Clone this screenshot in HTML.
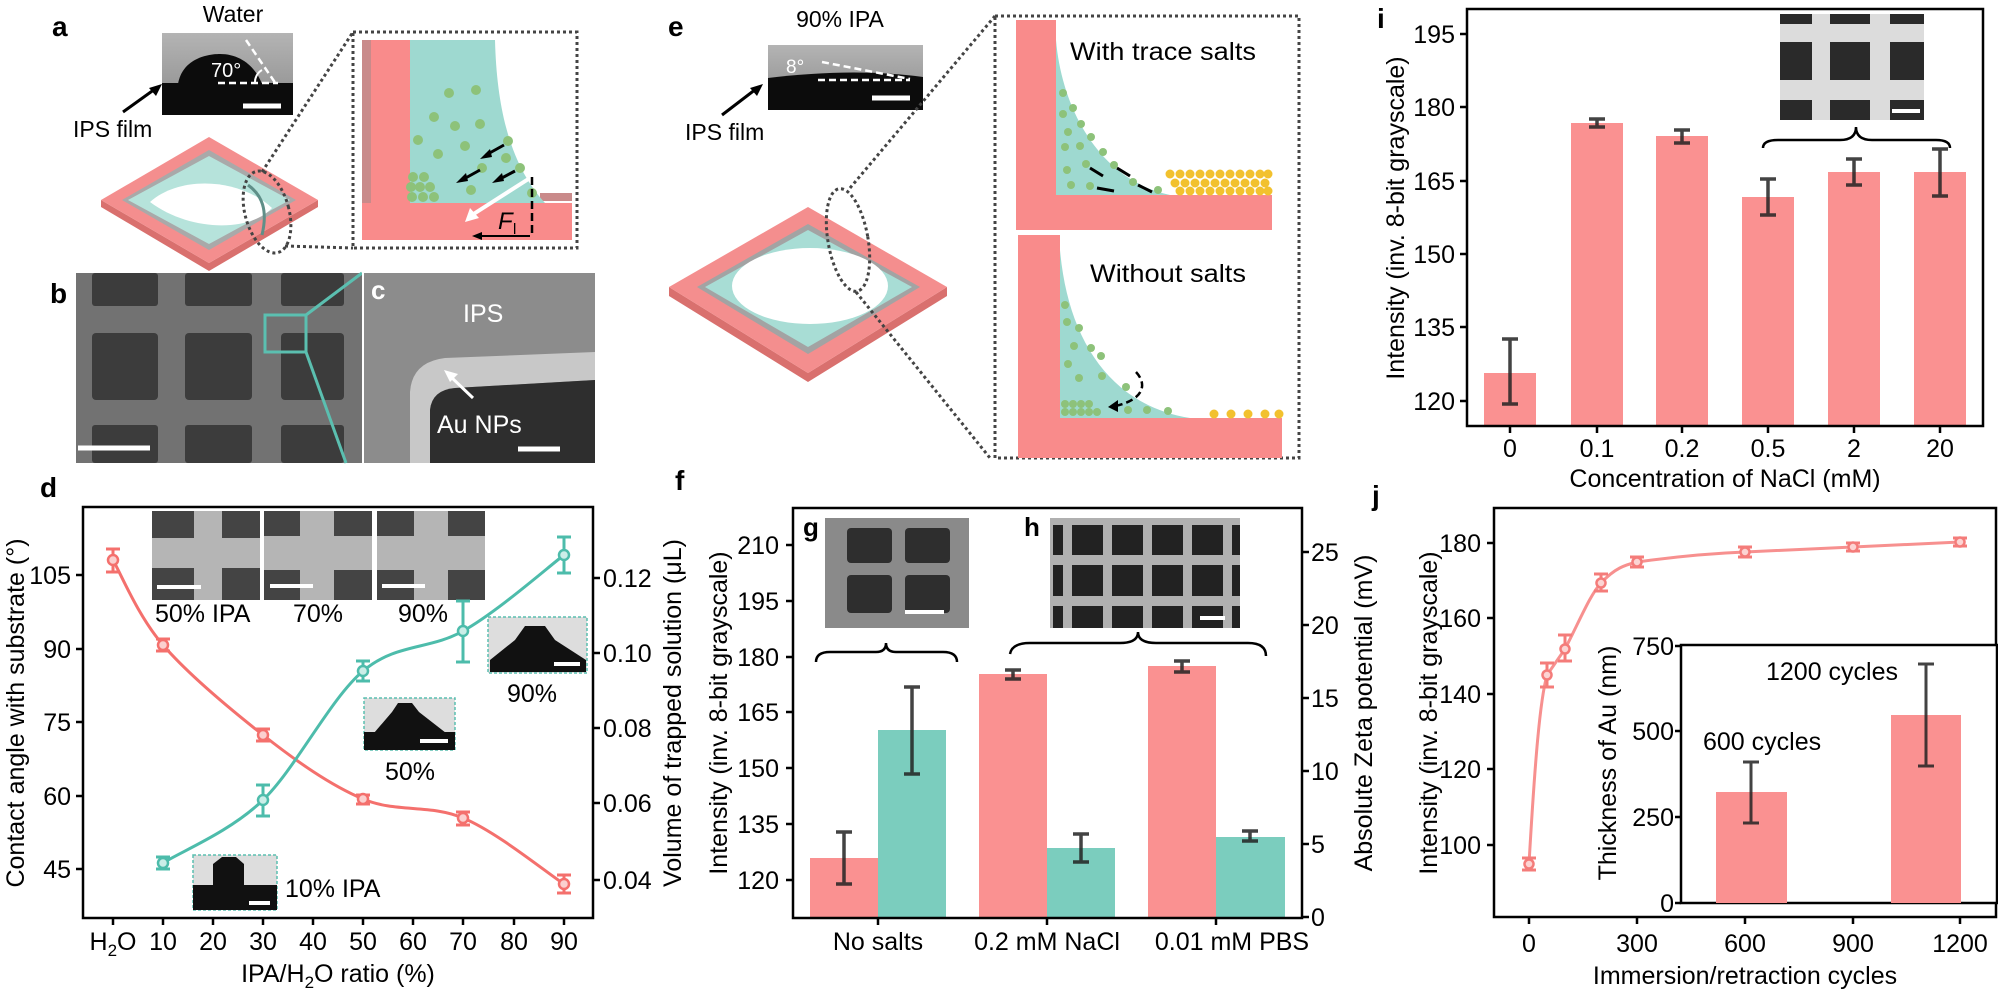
<!DOCTYPE html>
<html><head><meta charset="utf-8"><style>
html,body{margin:0;padding:0;background:#fff}
svg{display:block;font-family:"Liberation Sans",Arial,sans-serif}
</style></head><body>
<svg width="1998" height="989" viewBox="0 0 1998 989" xmlns="http://www.w3.org/2000/svg">
<defs>
<linearGradient id="dg" x1="0" y1="0" x2="0" y2="1"><stop offset="0" stop-color="#b4b4b4"/><stop offset="1" stop-color="#8a8a8a"/></linearGradient>
</defs>

<!-- ============ PANEL A ============ -->
<text x="52" y="36" font-size="28" font-weight="bold">a</text>
<text x="233" y="22" font-size="23" text-anchor="middle">Water</text>
<rect x="162" y="33" width="131" height="82" fill="url(#dg)"/>
<rect x="162" y="83" width="131" height="32" fill="#0c0c0c"/>
<path d="M178,84 C182,60 205,54 220,54 C240,54 255,66 262,84 Z" fill="#0c0c0c"/>
<line x1="218" y1="83" x2="278" y2="83" stroke="#fff" stroke-width="2.5" stroke-dasharray="7,4"/>
<line x1="246" y1="40" x2="276" y2="84" stroke="#fff" stroke-width="2.5" stroke-dasharray="7,4"/>
<path d="M255,83 A14,14 0 0 1 262,70" fill="none" stroke="#fff" stroke-width="2"/>
<text x="211" y="77" font-size="20" fill="#fff">70°</text>
<line x1="243" y1="106" x2="281" y2="106" stroke="#fff" stroke-width="5"/>
<text x="73" y="137" font-size="23">IPS film</text>
<line x1="123" y1="112" x2="155" y2="89" stroke="#000" stroke-width="3"/>
<path d="M162,84 L149,88 L156,96 Z" fill="#000"/>
<path d="M101,200 L209,263 L318,200 L318,207 L209,271 L101,207 Z" fill="#d9706e"/>
<path d="M209,137 L318,200 L209,263 L101,200 Z" fill="#f48e8e"/>
<path d="M209,150 L296,200 L209,250 L122,200 Z" fill="#a9a9a9"/>
<path d="M209,156 L290,200 L209,244 L128,200 Z" fill="#b6e3db"/>
<path d="M150,202 C180,175 240,178 272,208 C250,232 190,232 150,202 Z" fill="#fff"/>
<path d="M248,185 C262,195 268,210 262,235" fill="none" stroke="#5f8f88" stroke-width="3"/>
<ellipse cx="267" cy="212" rx="22" ry="42" transform="rotate(-15 267 212)" fill="none" stroke="#444" stroke-width="3" stroke-dasharray="3,3"/>
<line x1="262" y1="172" x2="353" y2="32" stroke="#444" stroke-width="3" stroke-dasharray="3,3"/>
<line x1="285" y1="246" x2="353" y2="248" stroke="#444" stroke-width="3" stroke-dasharray="3,3"/>
<rect x="353" y="32" width="224" height="216" fill="none" stroke="#444" stroke-width="3" stroke-dasharray="3,3"/>
<rect x="362" y="40" width="48" height="200" fill="#f98b8b"/>
<rect x="362" y="40" width="9" height="200" fill="#c98a8a"/>
<rect x="362" y="203" width="210" height="37" fill="#f98b8b"/>
<rect x="540" y="193" width="32" height="8" fill="#c98a8a"/>
<path d="M410,40 L495,40 C497,120 515,170 545,203 L410,203 Z" fill="#9ed9d0"/>
<g fill="#8dc27a">
<circle cx="449" cy="93" r="5"/><circle cx="476" cy="90" r="5"/><circle cx="434" cy="117" r="5"/><circle cx="455" cy="126" r="5"/><circle cx="480" cy="124" r="5"/><circle cx="418" cy="140" r="5"/><circle cx="465" cy="146" r="5"/><circle cx="438" cy="154" r="5"/><circle cx="508" cy="141" r="5"/><circle cx="506" cy="158" r="5"/><circle cx="482" cy="168" r="5"/><circle cx="520" cy="168" r="5"/><circle cx="471" cy="190" r="5"/><circle cx="532" cy="193" r="5"/>
<circle cx="413" cy="177" r="5"/><circle cx="424" cy="177" r="5"/><circle cx="411" cy="187" r="5"/><circle cx="420" cy="187" r="5"/><circle cx="430" cy="187" r="5"/><circle cx="412" cy="197" r="5"/><circle cx="423" cy="197" r="5"/><circle cx="434" cy="197" r="5"/>
</g>
<g stroke="#000" stroke-width="3"><line x1="504" y1="145" x2="486" y2="155"/><line x1="480" y1="170" x2="462" y2="180"/><line x1="515" y1="171" x2="498" y2="180"/></g>
<g fill="#000"><path d="M480,159 L490,149 L492,157 Z"/><path d="M456,183 L466,173 L468,181 Z"/><path d="M492,183 L502,173 L504,181 Z"/></g>
<line x1="530" y1="178" x2="472" y2="215" stroke="#fff" stroke-width="4"/>
<path d="M465,222 L470,208 L479,218 Z" fill="#fff"/>
<line x1="532" y1="177" x2="532" y2="235" stroke="#000" stroke-width="2.5" stroke-dasharray="8,4"/>
<line x1="530" y1="236" x2="478" y2="236" stroke="#000" stroke-width="2"/>
<path d="M472,236 L482,232 L482,240 Z" fill="#000"/>
<text x="498" y="229" font-size="24" font-style="italic">F</text><text x="513" y="234" font-size="15">l</text>

<!-- ============ PANEL B / C ============ -->
<text x="50" y="303" font-size="28" font-weight="bold">b</text>
<rect x="76" y="273" width="286" height="190" fill="#727272"/>
<g fill="#3c3c3c">
<rect x="92" y="273" width="66" height="33" rx="3"/><rect x="185" y="273" width="67" height="33" rx="3"/><rect x="281" y="273" width="63" height="33" rx="3"/>
<rect x="92" y="333" width="66" height="67" rx="4"/><rect x="185" y="333" width="67" height="67" rx="4"/><rect x="281" y="333" width="63" height="67" rx="4"/>
<rect x="92" y="425" width="66" height="38" rx="3"/><rect x="185" y="425" width="67" height="38" rx="3"/><rect x="281" y="425" width="63" height="38" rx="3"/>
</g>
<line x1="78" y1="448" x2="150" y2="448" stroke="#fff" stroke-width="5"/>
<rect x="265" y="315" width="41" height="37" fill="none" stroke="#5bbfb0" stroke-width="3"/>
<line x1="306" y1="315" x2="362" y2="273" stroke="#5bbfb0" stroke-width="3"/>
<line x1="306" y1="352" x2="346" y2="463" stroke="#5bbfb0" stroke-width="3"/>
<rect x="362" y="273" width="233" height="190" fill="#8c8c8c"/>
<line x1="363" y1="273" x2="363" y2="463" stroke="#fff" stroke-width="2"/>
<path d="M410,463 L410,392 Q412,362 445,358 L595,352 L595,380 L455,388 Q432,390 430,410 L430,463 Z" fill="#c8c8c8"/>
<path d="M430,463 L430,410 Q432,390 455,388 L595,380 L595,463 Z" fill="#2e2e2e"/>
<text x="371" y="299" font-size="26" font-weight="bold" fill="#fff">c</text>
<text x="463" y="322" font-size="25" fill="#fff">IPS</text>
<line x1="473" y1="398" x2="450" y2="376" stroke="#fff" stroke-width="3"/>
<path d="M444,370 L458,374 L450,382 Z" fill="#fff"/>
<text x="437" y="433" font-size="25" fill="#fff">Au NPs</text>
<line x1="518" y1="449" x2="560" y2="449" stroke="#fff" stroke-width="5"/>

<!-- ============ PANEL D ============ -->
<text x="40" y="497" font-size="28" font-weight="bold">d</text>
<g fill="#444">
<rect x="152" y="511" width="108" height="89"/><rect x="264" y="511" width="108" height="89"/><rect x="377" y="511" width="108" height="89"/></g>
<g fill="#b5b5b5">
<rect x="152" y="538" width="108" height="30"/><rect x="194" y="511" width="28" height="89"/>
<rect x="264" y="536" width="108" height="34"/><rect x="300" y="511" width="34" height="89"/>
<rect x="377" y="536" width="108" height="34"/><rect x="414" y="511" width="34" height="89"/></g>
<g stroke="#fff" stroke-width="4"><line x1="157" y1="587" x2="201" y2="587"/><line x1="270" y1="586" x2="313" y2="586"/><line x1="382" y1="586" x2="425" y2="586"/></g>
<g font-size="25"><text x="155" y="622">50% IPA</text><text x="318" y="622" text-anchor="middle">70%</text><text x="423" y="622" text-anchor="middle">90%</text></g>
<g>
<rect x="193" y="855" width="84" height="55" fill="#ddd" stroke="#5bbfb0" stroke-width="1.5" stroke-dasharray="3,2"/>
<rect x="193" y="885" width="84" height="25" fill="#111"/><path d="M213,886 L213,864 L222,857 L236,857 L244,864 L244,886 Z" fill="#111"/>
<line x1="249" y1="903" x2="270" y2="903" stroke="#fff" stroke-width="4"/>
<text x="285" y="897" font-size="25">10% IPA</text>
<rect x="364" y="698" width="91" height="52" fill="#ddd" stroke="#5bbfb0" stroke-width="1.5" stroke-dasharray="3,2"/>
<rect x="364" y="732" width="91" height="18" fill="#111"/><path d="M374,733 L392,712 L398,703 L412,703 L419,712 L446,733 Z" fill="#111"/>
<line x1="420" y1="741" x2="448" y2="741" stroke="#fff" stroke-width="4"/>
<text x="410" y="780" font-size="25" text-anchor="middle">50%</text>
<rect x="488" y="617" width="99" height="56" fill="#ddd" stroke="#5bbfb0" stroke-width="1.5" stroke-dasharray="3,2"/>
<path d="M490,672 L490,660 L515,640 L525,626 L545,626 L555,640 L586,660 L586,672 Z" fill="#111"/>
<line x1="554" y1="664" x2="580" y2="664" stroke="#fff" stroke-width="4"/>
<text x="532" y="702" font-size="25" text-anchor="middle">90%</text>
</g>
<path d="M113,560 C121,574 138,616 163,645 C188,674 230,709 263,735 C296,761 330,785 363,799 C396,813 430,804 463,818 C497,832 547,873 564,884" fill="none" stroke="#f4706d" stroke-width="3"/>
<path d="M163,863 C180,852 230,832 263,800 C296,768 330,699 363,671 C396,643 430,650 463,631 C497,612 547,568 564,555" fill="none" stroke="#4dbcab" stroke-width="3"/>
<g stroke="#f4706d" stroke-width="3" fill="none">
<path d="M113,549 V572 M106,549 H120 M106,572 H120"/><path d="M163,639 V651 M156,639 H170 M156,651 H170"/>
<path d="M263,729 V741 M256,729 H270 M256,741 H270"/><path d="M363,795 V804 M356,795 H370 M356,804 H370"/>
<path d="M463,812 V825 M456,812 H470 M456,825 H470"/><path d="M564,875 V893 M557,875 H571 M557,893 H571"/>
</g>
<g stroke="#4dbcab" stroke-width="3" fill="none">
<path d="M163,857 V869 M156,857 H170 M156,869 H170"/><path d="M263,785 V816 M256,785 H270 M256,816 H270"/>
<path d="M363,661 V681 M356,661 H370 M356,681 H370"/><path d="M463,601 V662 M456,601 H470 M456,662 H470"/>
<path d="M564,537 V573 M557,537 H571 M557,573 H571"/>
</g>
<g stroke-width="2.5" fill="#fbd0cf" stroke="#f4706d"><circle cx="113" cy="560" r="5"/><circle cx="163" cy="645" r="5"/><circle cx="263" cy="735" r="5"/><circle cx="363" cy="799" r="5"/><circle cx="463" cy="818" r="5"/><circle cx="564" cy="884" r="5"/></g>
<g stroke-width="2.5" fill="#cbeee8" stroke="#4dbcab"><circle cx="163" cy="863" r="5"/><circle cx="263" cy="800" r="5"/><circle cx="363" cy="671" r="5"/><circle cx="463" cy="631" r="5"/><circle cx="564" cy="555" r="5"/></g>
<rect x="83" y="507" width="510" height="411" fill="none" stroke="#000" stroke-width="2.5"/>
<g stroke="#000" stroke-width="2.5">
<path d="M76,575H83M76,649H83M76,722H83M76,796H83M76,869H83"/>
<path d="M593,578H600M593,653H600M593,728H600M593,803H600M593,880H600"/>
<path d="M113,918V925M163,918V925M213,918V925M263,918V925M313,918V925M363,918V925M413,918V925M463,918V925M514,918V925M564,918V925"/>
</g>
<g font-size="25" text-anchor="end"><text x="71" y="584">105</text><text x="71" y="658">90</text><text x="71" y="731">75</text><text x="71" y="805">60</text><text x="71" y="878">45</text></g>
<g font-size="25"><text x="603" y="587">0.12</text><text x="603" y="662">0.10</text><text x="603" y="737">0.08</text><text x="603" y="812">0.06</text><text x="603" y="889">0.04</text></g>
<g font-size="25" text-anchor="middle"><text x="113" y="950">H<tspan font-size="17" dy="6">2</tspan><tspan dy="-6">O</tspan></text><text x="163" y="950">10</text><text x="213" y="950">20</text><text x="263" y="950">30</text><text x="313" y="950">40</text><text x="363" y="950">50</text><text x="413" y="950">60</text><text x="463" y="950">70</text><text x="514" y="950">80</text><text x="564" y="950">90</text></g>
<text x="338" y="982" font-size="25" text-anchor="middle">IPA/H<tspan font-size="17" dy="6">2</tspan><tspan dy="-6">O ratio (%)</tspan></text>
<text transform="translate(24,713) rotate(-90)" font-size="25" text-anchor="middle">Contact angle with substrate (°)</text>
<text transform="translate(681,713) rotate(-90)" font-size="25" text-anchor="middle">Volume of trapped solution (μL)</text>

<!-- ============ PANEL E ============ -->
<text x="668" y="36" font-size="28" font-weight="bold">e</text>
<text x="840" y="27" font-size="23" text-anchor="middle">90% IPA</text>
<rect x="768" y="45" width="155" height="65" fill="url(#dg)"/>
<path d="M768,78 C820,72 870,70 923,77 L923,110 L768,110 Z" fill="#0c0c0c"/>
<line x1="822" y1="62" x2="910" y2="79" stroke="#fff" stroke-width="2.5" stroke-dasharray="7,4"/>
<line x1="818" y1="80" x2="910" y2="80" stroke="#fff" stroke-width="2.5" stroke-dasharray="7,4"/>
<text x="786" y="73" font-size="19" fill="#fff">8°</text>
<line x1="872" y1="98" x2="910" y2="98" stroke="#fff" stroke-width="5"/>
<text x="685" y="140" font-size="23">IPS film</text>
<line x1="722" y1="115" x2="756" y2="89" stroke="#000" stroke-width="3"/>
<path d="M763,84 L750,88 L757,96 Z" fill="#000"/>
<path d="M669,287 L808,373 L947,287 L947,296 L808,382 L669,296 Z" fill="#d9706e"/>
<path d="M808,207 L947,287 L808,373 L669,287 Z" fill="#f48e8e"/>
<path d="M808,224 L920,287 L808,354 L697,287 Z" fill="#a3a3a3"/>
<path d="M808,230 L912,287 L808,347 L705,287 Z" fill="#a8ddd5"/>
<ellipse cx="810" cy="286" rx="78" ry="38" fill="#fff"/>
<ellipse cx="848" cy="240" rx="20" ry="52" transform="rotate(-10 848 240)" fill="none" stroke="#444" stroke-width="3" stroke-dasharray="3,3"/>
<line x1="850" y1="188" x2="995" y2="16" stroke="#444" stroke-width="3" stroke-dasharray="3,3"/>
<line x1="856" y1="292" x2="990" y2="458" stroke="#444" stroke-width="3" stroke-dasharray="3,3"/>
<rect x="995" y="16" width="304" height="442" fill="none" stroke="#444" stroke-width="3" stroke-dasharray="3,3"/>
<rect x="1016" y="20" width="40" height="210" fill="#f98b8b"/>
<rect x="1016" y="195" width="256" height="35" fill="#f98b8b"/>
<path d="M1056,40 C1062,110 1100,180 1170,195 L1056,195 Z" fill="#9ed9d0"/>
<g fill="#f2c12e">
<circle cx="1170" cy="174" r="4.5"/><circle cx="1180" cy="174" r="4.5"/><circle cx="1190" cy="174" r="4.5"/><circle cx="1200" cy="174" r="4.5"/><circle cx="1210" cy="174" r="4.5"/><circle cx="1220" cy="174" r="4.5"/><circle cx="1230" cy="174" r="4.5"/><circle cx="1240" cy="174" r="4.5"/><circle cx="1250" cy="174" r="4.5"/><circle cx="1260" cy="174" r="4.5"/><circle cx="1268" cy="174" r="4.5"/>
<circle cx="1175" cy="183" r="4.5"/><circle cx="1185" cy="183" r="4.5"/><circle cx="1195" cy="183" r="4.5"/><circle cx="1205" cy="183" r="4.5"/><circle cx="1215" cy="183" r="4.5"/><circle cx="1225" cy="183" r="4.5"/><circle cx="1235" cy="183" r="4.5"/><circle cx="1245" cy="183" r="4.5"/><circle cx="1255" cy="183" r="4.5"/><circle cx="1265" cy="183" r="4.5"/>
<circle cx="1180" cy="191" r="4.5"/><circle cx="1190" cy="191" r="4.5"/><circle cx="1200" cy="191" r="4.5"/><circle cx="1210" cy="191" r="4.5"/><circle cx="1220" cy="191" r="4.5"/><circle cx="1230" cy="191" r="4.5"/><circle cx="1240" cy="191" r="4.5"/><circle cx="1250" cy="191" r="4.5"/><circle cx="1260" cy="191" r="4.5"/><circle cx="1268" cy="191" r="4.5"/>
</g>
<g fill="#8dc27a"><circle cx="1063" cy="93" r="4"/><circle cx="1073" cy="108" r="4"/><circle cx="1063" cy="114" r="4"/><circle cx="1081" cy="124" r="4"/><circle cx="1068" cy="132" r="4"/><circle cx="1091" cy="137" r="4"/><circle cx="1065" cy="147" r="4"/><circle cx="1080" cy="146" r="4"/><circle cx="1103" cy="152" r="4"/><circle cx="1067" cy="170" r="4"/><circle cx="1086" cy="164" r="4"/><circle cx="1114" cy="165" r="4"/><circle cx="1071" cy="185" r="4"/><circle cx="1090" cy="186" r="4"/><circle cx="1133" cy="182" r="4"/><circle cx="1158" cy="190" r="4"/></g>
<g stroke="#000" stroke-width="3"><line x1="1090" y1="168" x2="1103" y2="176"/><line x1="1117" y1="168" x2="1130" y2="176"/><line x1="1097" y1="188" x2="1114" y2="191"/><line x1="1138" y1="185" x2="1152" y2="192"/></g>
<text x="1070" y="60" font-size="25" textLength="186" lengthAdjust="spacingAndGlyphs">With trace salts</text>
<rect x="1018" y="235" width="42" height="223" fill="#f98b8b"/>
<rect x="1018" y="418" width="264" height="40" fill="#f98b8b"/>
<path d="M1060,250 C1068,340 1110,405 1190,418 L1060,418 Z" fill="#9ed9d0"/>
<g fill="#8dc27a"><circle cx="1065" cy="305" r="4"/><circle cx="1067" cy="322" r="4"/><circle cx="1079" cy="328" r="4"/><circle cx="1074" cy="346" r="4"/><circle cx="1091" cy="348" r="4"/><circle cx="1068" cy="364" r="4"/><circle cx="1101" cy="356" r="4"/><circle cx="1079" cy="378" r="4"/><circle cx="1102" cy="376" r="4"/><circle cx="1126" cy="387" r="4"/>
<circle cx="1065" cy="404" r="4"/><circle cx="1073" cy="404" r="4"/><circle cx="1081" cy="404" r="4"/><circle cx="1089" cy="404" r="4"/><circle cx="1065" cy="412" r="4"/><circle cx="1073" cy="412" r="4"/><circle cx="1081" cy="412" r="4"/><circle cx="1089" cy="412" r="4"/><circle cx="1097" cy="412" r="4"/><circle cx="1128" cy="410" r="4"/><circle cx="1147" cy="410" r="4"/><circle cx="1168" cy="411" r="4"/></g>
<g fill="#f2c12e"><circle cx="1214" cy="414" r="4.5"/><circle cx="1231" cy="414" r="4.5"/><circle cx="1248" cy="414" r="4.5"/><circle cx="1265" cy="414" r="4.5"/><circle cx="1279" cy="414" r="4.5"/></g>
<path d="M1136,372 C1148,385 1143,400 1115,406" fill="none" stroke="#000" stroke-width="2.5" stroke-dasharray="7,4"/>
<path d="M1108,407 L1118,400 L1118,412 Z" fill="#000"/>
<text x="1090" y="282" font-size="25" textLength="156" lengthAdjust="spacingAndGlyphs">Without salts</text>

<!-- ============ PANEL F ============ -->
<text x="675" y="490" font-size="28" font-weight="bold">f</text>
<g fill="#fa9191"><rect x="810" y="858" width="68" height="60"/><rect x="979" y="674" width="68" height="244"/><rect x="1148" y="666" width="68" height="252"/></g>
<g fill="#7bcdbe"><rect x="878" y="730" width="68" height="188"/><rect x="1047" y="848" width="68" height="70"/><rect x="1216" y="837" width="69" height="81"/></g>
<g stroke="#222" stroke-opacity="0.85" stroke-width="3.5" fill="none">
<path d="M844,832V884M836,832H852M836,884H852"/><path d="M912,687V774M904,687H920M904,774H920"/>
<path d="M1013,670V679M1005,670H1021M1005,679H1021"/><path d="M1081,834V862M1073,834H1089M1073,862H1089"/>
<path d="M1182,661V672M1174,661H1190M1174,672H1190"/><path d="M1250,831V841M1242,831H1258M1242,841H1258"/>
</g>
<rect x="825" y="518" width="144" height="110" fill="#8a8a8a"/>
<g fill="#2e2e2e"><rect x="847" y="528" width="45" height="35" rx="4"/><rect x="905" y="528" width="45" height="35" rx="4"/><rect x="847" y="575" width="45" height="38" rx="4"/><rect x="905" y="575" width="45" height="38" rx="4"/></g>
<line x1="905" y1="612" x2="944" y2="612" stroke="#fff" stroke-width="4"/>
<rect x="1050" y="518" width="190" height="110" fill="#b0b0b0"/>
<g fill="#222">
<rect x="1053" y="525" width="10" height="30"/><rect x="1072" y="525" width="31" height="30"/><rect x="1112" y="525" width="31" height="30"/><rect x="1152" y="525" width="31" height="30"/><rect x="1192" y="525" width="31" height="30"/><rect x="1232" y="525" width="8" height="30"/>
<rect x="1053" y="565" width="10" height="31"/><rect x="1072" y="565" width="31" height="31"/><rect x="1112" y="565" width="31" height="31"/><rect x="1152" y="565" width="31" height="31"/><rect x="1192" y="565" width="31" height="31"/><rect x="1232" y="565" width="8" height="31"/>
<rect x="1053" y="606" width="10" height="22"/><rect x="1072" y="606" width="31" height="22"/><rect x="1112" y="606" width="31" height="22"/><rect x="1152" y="606" width="31" height="22"/><rect x="1192" y="606" width="31" height="22"/><rect x="1232" y="606" width="8" height="22"/></g>
<line x1="1200" y1="618" x2="1225" y2="618" stroke="#fff" stroke-width="4"/>
<text x="803" y="536" font-size="26" font-weight="bold">g</text>
<text x="1024" y="536" font-size="26" font-weight="bold">h</text>
<path d="M816,662 Q816,652 830,652 L876,652 Q886,652 886,643 Q886,652 896,652 L943,652 Q957,652 957,662" fill="none" stroke="#000" stroke-width="2.5"/>
<path d="M1010,654 Q1012,643 1030,643 L1120,643 Q1138,643 1138,632 Q1138,643 1156,643 L1248,643 Q1266,643 1266,656" fill="none" stroke="#000" stroke-width="2.5"/>
<rect x="793" y="508" width="509" height="410" fill="none" stroke="#000" stroke-width="2.5"/>
<g stroke="#000" stroke-width="2.5">
<path d="M786,545H793M786,601H793M786,657H793M786,712H793M786,768H793M786,824H793M786,880H793"/>
<path d="M1302,552H1309M1302,625H1309M1302,698H1309M1302,771H1309M1302,844H1309M1302,917H1309"/>
<path d="M878,918V925M1047,918V925M1216,918V925"/>
</g>
<g font-size="25" text-anchor="end"><text x="779" y="554">210</text><text x="779" y="610">195</text><text x="779" y="666">180</text><text x="779" y="721">165</text><text x="779" y="777">150</text><text x="779" y="833">135</text><text x="779" y="889">120</text></g>
<g font-size="25"><text x="1311" y="561">25</text><text x="1311" y="634">20</text><text x="1311" y="707">15</text><text x="1311" y="780">10</text><text x="1311" y="853">5</text><text x="1311" y="926">0</text></g>
<g font-size="25" text-anchor="middle"><text x="878" y="950">No salts</text><text x="1047" y="950">0.2 mM NaCl</text><text x="1232" y="950">0.01 mM PBS</text></g>
<text transform="translate(727,713) rotate(-90)" font-size="25" text-anchor="middle">Intensity (inv. 8-bit grayscale)</text>
<text transform="translate(1372,713) rotate(-90)" font-size="25" text-anchor="middle">Absolute Zeta potential (mV)</text>

<!-- ============ PANEL I ============ -->
<text x="1377" y="28" font-size="28" font-weight="bold">i</text>
<g fill="#fa9191"><rect x="1484" y="373" width="52" height="53"/><rect x="1571" y="123" width="52" height="303"/><rect x="1656" y="136" width="52" height="290"/><rect x="1742" y="197" width="52" height="229"/><rect x="1828" y="172" width="52" height="254"/><rect x="1914" y="172" width="52" height="254"/></g>
<g stroke="#222" stroke-opacity="0.85" stroke-width="3.5" fill="none">
<path d="M1510,339V404M1502,339H1518M1502,404H1518"/><path d="M1597,119V127M1589,119H1605M1589,127H1605"/>
<path d="M1682,130V143M1674,130H1690M1674,143H1690"/><path d="M1768,179V215M1760,179H1776M1760,215H1776"/>
<path d="M1854,159V185M1846,159H1862M1846,185H1862"/><path d="M1940,149V196M1932,149H1948M1932,196H1948"/>
</g>
<rect x="1780" y="14" width="144" height="106" fill="#2a2a2a"/>
<g fill="#dcdcdc"><rect x="1780" y="24" width="144" height="18"/><rect x="1780" y="80" width="144" height="20"/><rect x="1812" y="14" width="18" height="106"/><rect x="1870" y="14" width="20" height="106"/></g>
<line x1="1892" y1="111" x2="1920" y2="111" stroke="#fff" stroke-width="4"/>
<path d="M1763,148 Q1763,140 1778,140 L1840,140 Q1856,140 1856,127 Q1856,140 1872,140 L1936,140 Q1950,140 1950,148" fill="none" stroke="#000" stroke-width="2.5"/>
<rect x="1467" y="9" width="516" height="417" fill="none" stroke="#000" stroke-width="2.5"/>
<g stroke="#000" stroke-width="2.5">
<path d="M1460,34H1467M1460,107H1467M1460,181H1467M1460,254H1467M1460,327H1467M1460,401H1467"/>
<path d="M1510,426V433M1597,426V433M1682,426V433M1768,426V433M1854,426V433M1940,426V433"/>
</g>
<g font-size="25" text-anchor="end"><text x="1455" y="43">195</text><text x="1455" y="116">180</text><text x="1455" y="190">165</text><text x="1455" y="263">150</text><text x="1455" y="336">135</text><text x="1455" y="410">120</text></g>
<g font-size="25" text-anchor="middle"><text x="1510" y="457">0</text><text x="1597" y="457">0.1</text><text x="1682" y="457">0.2</text><text x="1768" y="457">0.5</text><text x="1854" y="457">2</text><text x="1940" y="457">20</text></g>
<text x="1725" y="487" font-size="25" text-anchor="middle">Concentration of NaCl (mM)</text>
<text transform="translate(1404,218) rotate(-90)" font-size="25" text-anchor="middle">Intensity (inv. 8-bit grayscale)</text>

<!-- ============ PANEL J ============ -->
<text x="1372" y="505" font-size="28" font-weight="bold">j</text>
<rect x="1494" y="508" width="502" height="409" fill="none" stroke="#000" stroke-width="2.5"/>
<path d="M1529,864 C1535,760 1540,700 1547,675 L1565,649 C1580,620 1590,595 1601,583 C1615,568 1625,565 1637,562 C1680,556 1720,553 1745,552 L1853,547 L1960,542" fill="none" stroke="#f7908f" stroke-width="3"/>
<g stroke="#f47c7a" stroke-width="3" fill="none">
<path d="M1529,858V870M1522,858H1536M1522,870H1536"/><path d="M1547,663V687M1540,663H1554M1540,687H1554"/>
<path d="M1565,635V661M1558,635H1572M1558,661H1572"/><path d="M1601,574V591M1594,574H1608M1594,591H1608"/>
<path d="M1637,557V567M1630,557H1644M1630,567H1644"/><path d="M1745,547V557M1738,547H1752M1738,557H1752"/>
<path d="M1853,543V551M1846,543H1860M1846,551H1860"/><path d="M1960,538V546M1953,538H1967M1953,546H1967"/>
</g>
<g stroke="#f47c7a" stroke-width="2.5" fill="#fcd4d3"><circle cx="1529" cy="864" r="4.5"/><circle cx="1547" cy="675" r="4.5"/><circle cx="1565" cy="649" r="4.5"/><circle cx="1601" cy="583" r="4.5"/><circle cx="1637" cy="562" r="4.5"/><circle cx="1745" cy="552" r="4.5"/><circle cx="1853" cy="547" r="4.5"/><circle cx="1960" cy="542" r="4.5"/></g>
<rect x="1681" y="645" width="316" height="258" fill="#fff" stroke="#000" stroke-width="2.5"/>
<g fill="#fa9191"><rect x="1716" y="792" width="71" height="111"/><rect x="1891" y="715" width="70" height="188"/></g>
<g stroke="#222" stroke-opacity="0.85" stroke-width="3" fill="none">
<path d="M1751,762V823M1743,762H1759M1743,823H1759"/><path d="M1926,664V766M1918,664H1934M1918,766H1934"/>
</g>
<text x="1703" y="750" font-size="25">600 cycles</text>
<text x="1766" y="680" font-size="25">1200 cycles</text>
<g stroke="#000" stroke-width="2.5"><path d="M1675,646H1681M1675,731H1681M1675,817H1681M1675,903H1681"/></g>
<g font-size="25" text-anchor="end"><text x="1674" y="655">750</text><text x="1674" y="740">500</text><text x="1674" y="826">250</text><text x="1674" y="912">0</text></g>
<text transform="translate(1616,763) rotate(-90)" font-size="25" text-anchor="middle">Thickness of Au (nm)</text>
<g stroke="#000" stroke-width="2.5">
<path d="M1487,543H1494M1487,618H1494M1487,694H1494M1487,769H1494M1487,845H1494"/>
<path d="M1529,917V924M1637,917V924M1745,917V924M1853,917V924M1960,917V924"/>
</g>
<g font-size="25" text-anchor="end"><text x="1481" y="552">180</text><text x="1481" y="627">160</text><text x="1481" y="703">140</text><text x="1481" y="778">120</text><text x="1481" y="854">100</text></g>
<g font-size="25" text-anchor="middle"><text x="1529" y="952">0</text><text x="1637" y="952">300</text><text x="1745" y="952">600</text><text x="1853" y="952">900</text><text x="1960" y="952">1200</text></g>
<text x="1745" y="984" font-size="25" text-anchor="middle">Immersion/retraction cycles</text>
<text transform="translate(1437,713) rotate(-90)" font-size="25" text-anchor="middle">Intensity (inv. 8-bit grayscale)</text>
</svg>
</body></html>
